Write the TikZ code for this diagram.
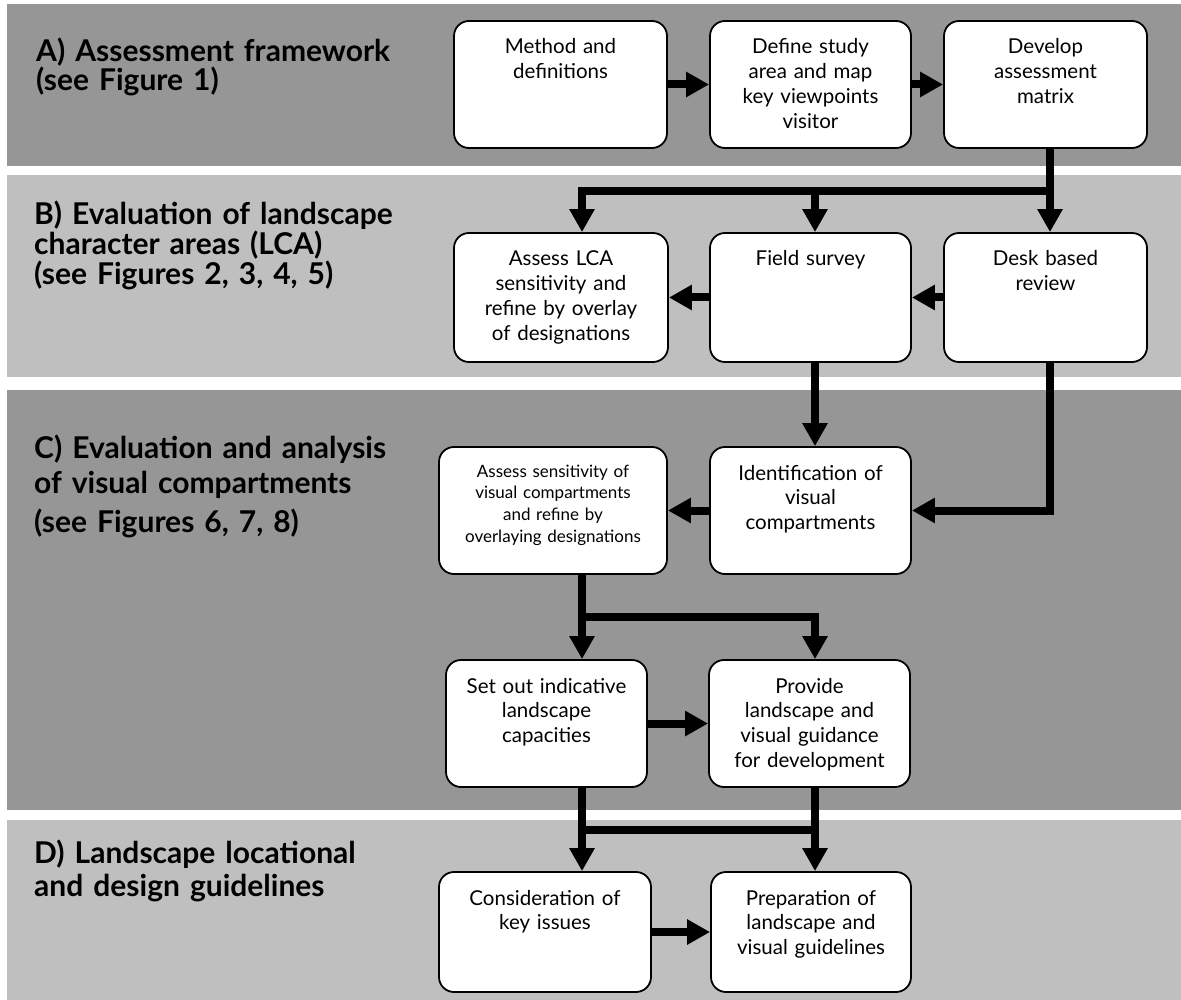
\documentclass[tikz,border=0pt]{standalone}
\usepackage{fontspec}
\setmainfont{Lato}
\usetikzlibrary{arrows.meta}
\definecolor{Dband}{RGB}{150,150,150}
\definecolor{Lband}{RGB}{191,191,191}

\begin{document}
\begin{tikzpicture}[x=1pt,y=-1pt,line join=miter,
  stepbox/.style={draw,line width=1.8pt,fill=white,rounded corners=15pt,inner xsep=6pt,inner ysep=18pt,
    text height=15pt,text depth=76pt,align=center,font=\fontsize{20.5}{24.7}\selectfont},
  head/.style={anchor=base west,text width=400pt,align=left,inner sep=0pt,font=\bfseries\fontsize{30}{30}\selectfont},
  flow/.style={line width=8pt,-{Triangle[width=24pt,length=23pt]}},
  link/.style={line width=8pt}]
\path[use as bounding box] (0,0) rectangle (1181,1000);
% bands
\fill[Dband] (7,4) rectangle (1181,166);
\fill[Lband] (7,175) rectangle (1181,377);
\fill[Dband] (7,390) rectangle (1181,810);
\fill[Lband] (7,820) rectangle (1181,1000);
% headings
\node[head] (headA) at (36,62) {A) Assessment framework\\[-1.5pt](see Figure 1)};
\node[head] (headB) at (34,225) {B) Evaluation of landscape\\character areas (LCA)\\(see Figures 2, 3, 4, 5)};
\node[head] (headC) at (34,458) {C) Evaluation and analysis\\[5pt]of visual compartments\\[9pt](see Figures 6, 7, 8)};
\node[head] (headD) at (34,863) {D) Landscape locational\\[3pt]and design guidelines};
% steps
\node[stepbox,text width=201pt] (method) at (560.5,84.5) {Method and\\definitions};
\node[stepbox,text width=189pt] (define) at (810.5,84.5) {Define study\\area and map\\key viewpoints\\visitor};
\node[stepbox,text width=191pt] (develop) at (1045.5,84.5) {Develop\\assessment\\matrix};
\node[stepbox,text width=202pt,text depth=78pt] (lca) at (561,297.5) {Assess LCA\\sensitivity and\\refine by overlay\\of designations};
\node[stepbox,text width=189pt,text depth=78pt] (field) at (810.5,297.5) {Field survey};
\node[stepbox,text width=191pt,text depth=78pt] (desk) at (1045.5,297.5) {Desk based\\review};
\node[stepbox,text width=216pt,text height=12pt,text depth=79pt,font=\fontsize{17}{21.7}\selectfont] (vissens) at (553,510.5) {Assess sensitivity of\\visual compartments\\and refine by\\overlaying designations};
\node[stepbox,text width=189pt] (ident) at (810.5,510.5) {Identification of\\visual\\compartments};
\node[stepbox,text width=189pt] (capac) at (546.5,723.5) {Set out indicative\\landscape\\capacities};
\node[stepbox,text width=189pt] (guide) at (809.5,723.5) {Provide\\landscape and\\visual guidance\\for development};
\node[stepbox,text width=200pt,text depth=69pt] (issues) at (545,932) {Consideration of\\key issues};
\node[stepbox,text width=188pt,text depth=69pt] (prep) at (811,932) {Preparation of\\landscape and\\visual guidelines};
% columns and junctions
\coordinate (colL) at (582,0);
\coordinate (colM) at (815,0);
\coordinate (colR) at (1050,0);
\coordinate (jA) at (1050,191);
\coordinate (jC) at (582,617);
\coordinate (jD) at (582,830);
% connectors
\draw[flow] (method) -- (define);
\draw[flow] (define) -- (develop);
\draw[flow] (develop.south -| colR) -- (desk.north -| colR);
\draw[flow] (jA) -| (lca.north -| colL);
\draw[flow] (jA -| colM) -- (field.north -| colM);
\draw[flow] (desk) -- (field);
\draw[flow] (field) -- (lca);
\draw[flow] (field.south -| colM) -- (ident.north -| colM);
\draw[flow] (desk.south -| colR) |- (ident.east);
\draw[flow] (ident) -- (vissens);
\draw[flow] (vissens.south -| colL) -- (capac.north -| colL);
\draw[flow] (jC) -| (guide.north -| colM);
\draw[flow] (capac) -- (guide);
\draw[flow] (capac.south -| colL) -- (issues.north -| colL);
\draw[flow] (guide.south -| colM) -- (prep.north -| colM);
\draw[link] (jD) -- (jD -| colM);
\draw[flow] (issues) -- (prep);
\end{tikzpicture}
\end{document}
